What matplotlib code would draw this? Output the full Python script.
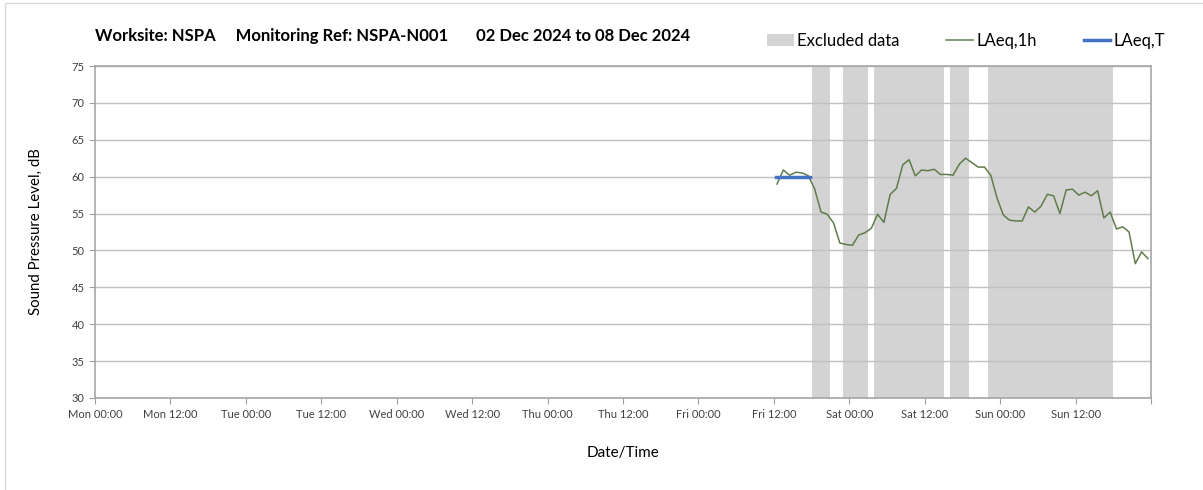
import numpy as np
import matplotlib
matplotlib.use('Agg')
from matplotlib import pyplot as plt
from matplotlib.patches import Patch, Rectangle
from matplotlib.lines import Line2D

plt.rcParams['font.family'] = ['Lato', 'DejaVu Sans']

# hours since Mon 02 Dec 2024 00:00
tick_hours = np.arange(0, 169, 12)
tick_labels = ['Mon 00:00', 'Mon 12:00', 'Tue 00:00', 'Tue 12:00', 'Wed 00:00', 'Wed 12:00',
               'Thu 00:00', 'Thu 12:00', 'Fri 00:00', 'Fri 12:00', 'Sat 00:00', 'Sat 12:00',
               'Sun 00:00', 'Sun 12:00', '']

# excluded periods (start hour, end hour)
excl_start = [114, 119, 124, 136, 142]
excl_end = [117, 123, 135, 139, 162]

# LAeq,1h values, hourly from Fri 12:30
laeq_1h_first = 108.5
laeq_1h = [59.0, 60.9, 60.2, 60.6, 60.5, 60.1, 58.3, 55.2, 54.9, 53.7,
           51.0, 50.8, 50.7, 52.1, 52.4, 53.0, 54.9, 53.8, 57.6, 58.4,
           61.6, 62.3, 60.1, 60.9, 60.8, 61.0, 60.3, 60.3, 60.2, 61.7,
           62.5, 61.9, 61.3, 61.3, 60.2, 57.1, 54.8, 54.1, 54.0, 54.0,
           55.9, 55.2, 56.0, 57.6, 57.4, 55.0, 58.2, 58.3, 57.5, 57.9,
           57.4, 58.1, 54.4, 55.2, 52.9, 53.2, 52.5, 48.2, 49.8, 48.9]
laeq_1h_hours = laeq_1h_first + np.arange(len(laeq_1h))

# LAeq,T over the measurement period
laeq_t_hours = [108.3, 113.7]
laeq_t = [60.0, 60.0]

fig = plt.figure(figsize=(12.03, 4.9), dpi=100)
ax = fig.add_axes([0.079, 0.1878, 0.8778, 0.6775])

for s, e in zip(excl_start, excl_end):
    ax.axvspan(s, e, color='#d3d3d3', lw=0, zorder=1)

ax.plot(laeq_1h_hours, laeq_1h, color='#5f7d4a', lw=1.1, zorder=3)
ax.plot(laeq_t_hours, laeq_t, color='#4472c4', lw=2.5, zorder=4)

ax.set_xlim(0, 168)
ax.set_ylim(30, 75)
ax.set_xticks(tick_hours)
ax.set_xticklabels(tick_labels, fontsize=8)
ax.set_yticks(np.arange(30, 76, 5))
ax.tick_params(axis='y', labelsize=8, length=4, color='#a0a0a0', labelcolor='#404040')
ax.tick_params(axis='x', length=4, color='#a0a0a0', labelcolor='#404040', pad=4)

ax.set_xticks(np.arange(0, 169, 24), minor=True)
ax.grid(True, which='minor', axis='x', color='#c8c8c8', lw=1)
ax.grid(True, which='major', axis='y', color='#c0c0c0', lw=1)
ax.tick_params(axis='x', which='minor', length=0)
for sp in ax.spines.values():
    sp.set_color('#a6a6a6')
    sp.set_linewidth(1.2)

ax.set_ylabel('Sound Pressure Level, dB', fontsize=10.8, labelpad=21)
ax.set_xlabel('Date/Time', fontsize=11, labelpad=19)

fig.text(0.079, 0.926, 'Worksite: NSPA     Monitoring Ref: NSPA-N001       02 Dec 2024 to 08 Dec 2024',
         fontsize=12, fontweight='bold', va='center')

handles = [Patch(facecolor='#d3d3d3', edgecolor='none'),
           Line2D([], [], color='#5f7d4a', lw=1.1),
           Line2D([], [], color='#4472c4', lw=2.5)]
fig.legend(handles, ['Excluded data', 'LAeq,1h', 'LAeq,T'], loc='center right',
           bbox_to_anchor=(0.981, 0.916), ncol=3, frameon=False, fontsize=12,
           handlelength=1.6, handletextpad=0.2, columnspacing=2.8)

fig.add_artist(Rectangle((0.004, -0.01), 1.0, 1.003, transform=fig.transFigure,
                         fill=False, edgecolor='#d9d9d9', lw=1))

fig.savefig('out.png', dpi=100)
